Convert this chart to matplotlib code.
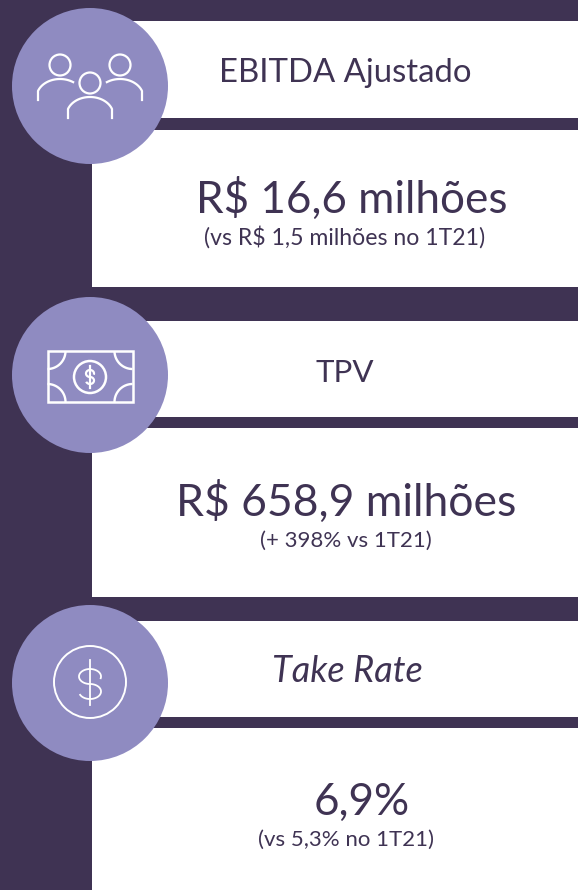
import numpy as np
import matplotlib
matplotlib.use("Agg")
import matplotlib.pyplot as plt
from matplotlib.patches import Circle, Rectangle

DARK = "#3F3353"
LILAC = "#8F8BC1"

titles = ["EBITDA Ajustado", "TPV", "Take Rate"]
title_styles = ["normal", "normal", "italic"]
values = ["R$ 16,6 milhões", "R$ 658,9 milhões", "6,9%"]
notes = ["(vs R$ 1,5 milhões no 1T21)", "(+ 398% vs 1T21)", "(vs 5,3% no 1T21)"]

# y positions in pixels
head_boxes = [(21, 118), (321, 417), (621, 717)]
body_boxes = [(130, 287), (428, 597), (728, 890)]
circle_y = [86, 375, 683]
title_pos = [(345, 73), (345, 373), (347.5, 672)]
title_size = [23.7, 22.5, 26]
value_pos = [(351.5, 199), (346.5, 502), (362, 802)]
value_size = [31.7, 32, 31.7]
note_pos = [(345, 237), (345.5, 541), (345.5, 840)]
note_size = [16.6, 16, 16]

plt.rcParams['font.family'] = ['Lato', 'DejaVu Sans']

fig = plt.figure(figsize=(5.78, 8.9), dpi=100, facecolor=DARK)
ax = fig.add_axes([0, 0, 1, 1])
ax.set_xlim(0, 578)
ax.set_ylim(890, 0)
ax.axis("off")


def arc(cx, cy, r, a0, a1, lw=1.7, ry=None):
    t = np.radians(np.linspace(a0, a1, 60))
    ax.plot(cx + r * np.cos(t), cy + (ry or r) * np.sin(t), color="white", lw=lw,
            solid_capstyle="butt", zorder=4)


def ring(cx, cy, r, lw=1.6):
    ax.add_patch(Circle((cx, cy), r, fill=False, ec="white", lw=lw, zorder=4))


def dollar(cx, cy, rx, ry, top, bottom, lw):
    # S made of two half ellipses plus the vertical stroke
    arc(cx, cy - ry, rx, 20, -270, lw, ry)
    arc(cx, cy + ry, rx, -90, 160, lw, ry)
    ax.plot([cx, cx], [top, bottom], color="white", lw=lw, zorder=4)


def people_icon(cy):
    for dx, dy in [(-30, -21), (30, -21), (0, -3)]:
        ring(90 + dx, cy + dy, 10.5)
    # body of the middle one
    t = np.radians(np.linspace(200, 340, 40))
    x = 90 + 22 * np.cos(t) / np.cos(np.radians(20))
    y = cy + 23 + 12 * (np.sin(t) - np.sin(np.radians(200))) / (1 - np.sin(np.radians(20)))
    ax.plot(np.r_[68, x, 112], np.r_[cy + 32, y, cy + 32], color="white", lw=1.6, zorder=4)
    # outer two, cut short near the middle head
    ax.plot(np.r_[38, x[:30] - 30], np.r_[cy + 14, y[:30] - 18], color="white", lw=1.6, zorder=4)
    ax.plot(np.r_[142, 210 - x[:30]], np.r_[cy + 14, y[:30] - 18], color="white", lw=1.6, zorder=4)


def money_icon(cy):
    ax.add_patch(Rectangle((47.5, cy - 24), 85, 51, fill=False, ec="white", lw=1.8, zorder=4))
    ring(90, cy + 2, 16, lw=1.8)
    arc(47.5, cy - 24, 18, 0, 90)
    arc(132.5, cy - 24, 18, 90, 180)
    arc(47.5, cy + 27, 18, -90, 0)
    arc(132.5, cy + 27, 18, 180, 270)
    dollar(90, cy + 2, 4, 3.5, cy - 9, cy + 13, 1.6)


def coin_icon(cy):
    ring(90, cy - 1, 36, lw=1.4)
    dollar(90, cy + 1, 11, 7.5, cy - 23, cy + 22, 1.3)


icons = [people_icon, money_icon, coin_icon]

for i in range(3):
    ax.add_patch(Rectangle((92, head_boxes[i][0]), 486, head_boxes[i][1] - head_boxes[i][0], fc="white", ec="none", zorder=1))
    ax.add_patch(Rectangle((92, body_boxes[i][0]), 486, body_boxes[i][1] - body_boxes[i][0], fc="white", ec="none", zorder=1))
    ax.add_patch(Circle((90, circle_y[i]), 78, fc=LILAC, ec="none", zorder=3))
    icons[i](circle_y[i])
    ax.text(*title_pos[i], titles[i], fontsize=title_size[i], style=title_styles[i], color=DARK, ha="center", va="center", zorder=5)
    ax.text(*value_pos[i], values[i], fontsize=value_size[i], color=DARK, ha="center", va="center", zorder=5)
    ax.text(*note_pos[i], notes[i], fontsize=note_size[i], color=DARK, ha="center", va="center", zorder=5)

fig.savefig("out.png", dpi=100, facecolor=DARK)
plt.close()
